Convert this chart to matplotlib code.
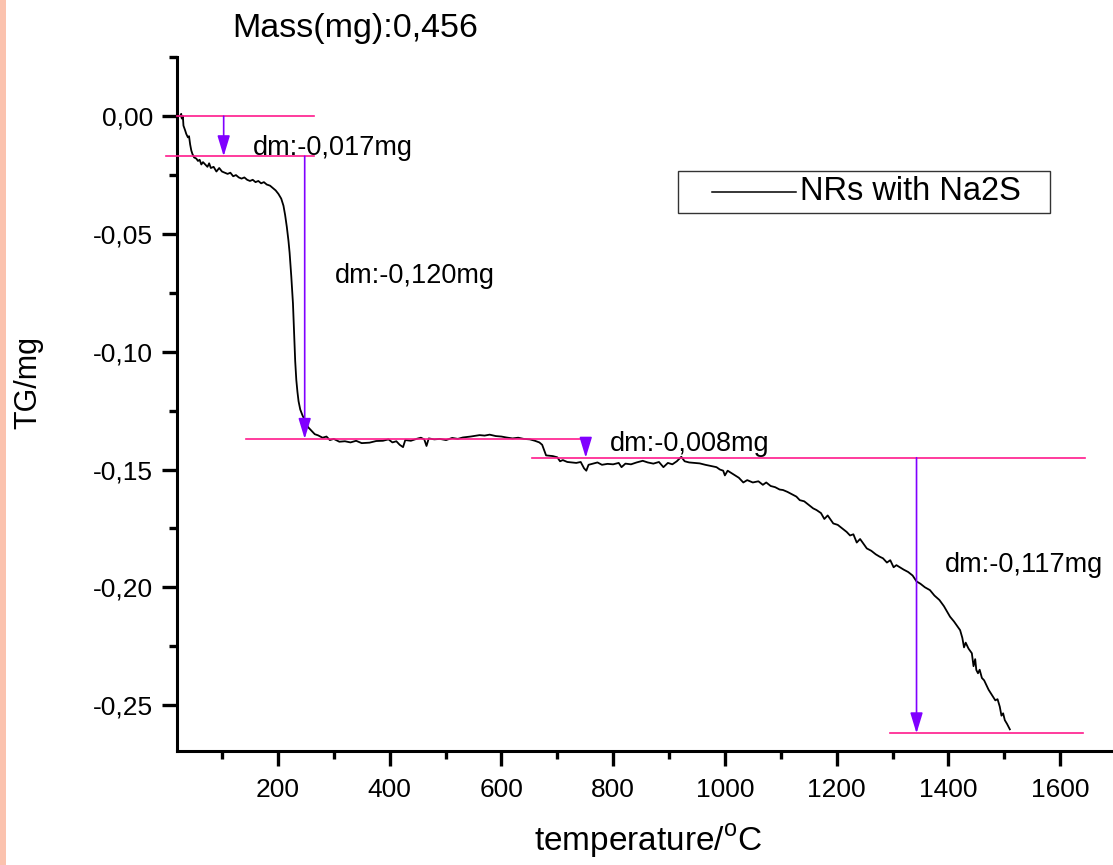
import matplotlib
matplotlib.use("Agg")
import matplotlib.pyplot as plt
from matplotlib.patches import Rectangle
from matplotlib.lines import Line2D

plt.rcParams['font.family'] = ['Liberation Sans', 'DejaVu Sans']
plt.rcParams['mathtext.fontset'] = 'custom'
plt.rcParams['mathtext.rm'] = 'Liberation Sans'

# TG curve, temperature in C and mass change in mg
temp_c = [25, 27, 28, 30, 31, 34, 36, 39, 41, 43, 45, 47, 50, 54, 57, 60, 63, 66, 70, 74,
          77, 80, 85, 90, 95, 100, 105, 110, 115, 120, 125, 130, 135, 140, 145, 150, 155,
          160, 165, 170, 175, 180, 186, 191, 196, 201, 206, 210, 213, 216, 219, 221, 224,
          227, 229, 231, 233, 235, 237, 240, 244, 249, 254, 260, 266, 272, 280, 287, 293,
          300, 310, 320, 330, 340, 350, 364, 376, 388, 398, 405, 412, 418, 424, 428, 438,
          448, 456, 462, 466, 470, 480, 490, 501, 512, 522, 531, 545, 561, 570, 579, 590,
          600, 609, 620, 630, 640, 651, 660, 668, 673, 677, 680, 692, 700, 705, 710, 718,
          726, 734, 742, 748, 752, 756, 764, 772, 780, 790, 800, 810, 815, 822, 832, 842,
          853, 862, 872, 882, 890, 898, 906, 914, 922, 928, 936, 946, 955, 965, 975, 985,
          991, 997, 1000, 1005, 1015, 1025, 1033, 1040, 1050, 1060, 1068, 1074, 1082, 1090,
          1098, 1104, 1112, 1120, 1128, 1134, 1142, 1150, 1158, 1164, 1172, 1178, 1184,
          1194, 1202, 1210, 1218, 1224, 1230, 1236, 1242, 1254, 1262, 1270, 1277, 1283,
          1290, 1296, 1302, 1307, 1313, 1320, 1328, 1336, 1343, 1350, 1358, 1367, 1375,
          1384, 1392, 1398, 1403, 1410, 1416, 1421, 1425, 1428, 1431, 1436, 1442, 1445,
          1448, 1450, 1453, 1456, 1460, 1464, 1468, 1472, 1476, 1480, 1484, 1488, 1492,
          1495, 1498, 1501, 1505, 1510]
tg_mg = [0.000, 0.001, -0.001, 0.000, -0.004, -0.006, -0.0075, -0.009, -0.0085, -0.012,
         -0.0145, -0.016, -0.0175, -0.018, -0.019, -0.0185, -0.0205, -0.0195, -0.0205,
         -0.0215, -0.020, -0.022, -0.0215, -0.0235, -0.022, -0.0235, -0.024, -0.0245,
         -0.024, -0.0255, -0.025, -0.026, -0.0265, -0.026, -0.027, -0.0275, -0.027, -0.028,
         -0.0275, -0.0285, -0.028, -0.029, -0.0295, -0.0305, -0.0315, -0.033, -0.035,
         -0.038, -0.042, -0.047, -0.053, -0.058, -0.068, -0.0795, -0.092, -0.104, -0.112,
         -0.117, -0.121, -0.1245, -0.127, -0.1295, -0.132, -0.1335, -0.135, -0.1355,
         -0.1365, -0.136, -0.1375, -0.137, -0.1382, -0.138, -0.1385, -0.1378, -0.1388,
         -0.1386, -0.1379, -0.1378, -0.1372, -0.1385, -0.138, -0.1395, -0.1405, -0.1375,
         -0.1378, -0.137, -0.1365, -0.1372, -0.140, -0.1368, -0.1372, -0.137, -0.1375,
         -0.1366, -0.137, -0.1364, -0.136, -0.1354, -0.1356, -0.1352, -0.1358, -0.136,
         -0.1364, -0.1368, -0.1365, -0.137, -0.1372, -0.1378, -0.1385, -0.1395, -0.142,
         -0.144, -0.1443, -0.1448, -0.1465, -0.146, -0.1468, -0.147, -0.1472, -0.1468,
         -0.1495, -0.1505, -0.148, -0.1475, -0.147, -0.148, -0.1476, -0.1478, -0.1472,
         -0.149, -0.1475, -0.1478, -0.147, -0.1463, -0.147, -0.1475, -0.1468, -0.149,
         -0.1472, -0.1478, -0.1465, -0.1446, -0.1465, -0.147, -0.1472, -0.1474, -0.148,
         -0.1485, -0.149, -0.150, -0.1505, -0.1525, -0.1505, -0.152, -0.1535, -0.1555,
         -0.1545, -0.1555, -0.155, -0.1565, -0.1555, -0.157, -0.1575, -0.1585, -0.1587,
         -0.1595, -0.1605, -0.1615, -0.163, -0.1635, -0.165, -0.1665, -0.1672, -0.1685,
         -0.171, -0.1695, -0.1729, -0.1735, -0.175, -0.1765, -0.178, -0.1775, -0.181,
         -0.1795, -0.1835, -0.1845, -0.186, -0.187, -0.1877, -0.1895, -0.1885, -0.1915,
         -0.1906, -0.1915, -0.1925, -0.1935, -0.195, -0.1975, -0.1985, -0.200, -0.2012,
         -0.2035, -0.2054, -0.208, -0.2105, -0.2125, -0.2145, -0.2165, -0.2182, -0.2215,
         -0.2255, -0.2235, -0.226, -0.228, -0.2335, -0.2305, -0.2351, -0.2365, -0.235,
         -0.2385, -0.2395, -0.2415, -0.2435, -0.245, -0.2465, -0.248, -0.2475, -0.2507,
         -0.2545, -0.2535, -0.2564, -0.258, -0.2603]

# mass loss steps: arrow x position, arrow start level and dm
step_x = [103, 248, 751, 1343]
step_dm = [-0.017, -0.120, -0.008, -0.117]
step_top = [0.0, -0.017, -0.137, -0.145]
step_labels = ['dm:-0,017mg', 'dm:-0,120mg', 'dm:-0,008mg', 'dm:-0,117mg']
label_pos = [(155, -0.0166), (302, -0.0709), (795, -0.1421), (1394, -0.1934)]

# horizontal marker lines: level, x from, x to
level_y = [0.0, -0.017, -0.137, -0.145, -0.262]
level_x0 = [20, 0, 143, 654, 1295]
level_x1 = [264, 264, 753, 1644, 1641]

xticks = [200, 400, 600, 800, 1000, 1200, 1400, 1600]
xminor = [100, 300, 500, 700, 900, 1100, 1300, 1500, 1700]
yticks = [0.0, -0.05, -0.10, -0.15, -0.20, -0.25]
yminor = [0.025, -0.025, -0.075, -0.125, -0.175, -0.225]

pink = '#FF1A8C'
violet = '#8000FF'

W, H = 1113, 865
fig = plt.figure(figsize=(W / 100, H / 100), dpi=100)
fig.patches.append(Rectangle((0, 0), 6 / W, 1, transform=fig.transFigure,
                             facecolor='#FBC2AE', edgecolor='none'))

ax = fig.add_axes([177.3 / W, 1 - 751 / H, (1116 - 177.3) / W, (751 - 57.3) / H])
ax.set_xlim(20, 1700)
ax.set_ylim(-0.2695, 0.025)

ax.plot(temp_c, tg_mg, color='black', lw=1.3)

for y, x0, x1 in zip(level_y, level_x0, level_x1):
    ax.plot([x0, x1], [y, y], color=pink, lw=1.2, clip_on=False, zorder=3)

for x, top, dm in zip(step_x, step_top, step_dm):
    ax.annotate('', xy=(x, top + dm), xytext=(x, top),
                arrowprops=dict(arrowstyle='-|>,head_length=1.25,head_width=0.38',
                                mutation_scale=10, color=violet, lw=1.2,
                                shrinkA=0, shrinkB=0), zorder=4)

for txt, (x, y) in zip(step_labels, label_pos):
    ax.text(x, y, txt, fontsize=19.5, ha='left', va='baseline')

for side in ['top', 'right']:
    ax.spines[side].set_visible(False)
for side in ['left', 'bottom']:
    ax.spines[side].set_linewidth(2.2)

ax.set_xticks(xticks)
ax.set_xticks(xminor, minor=True)
ax.set_yticks(yticks)
ax.set_yticks(yminor, minor=True)
ax.set_yticklabels([f'{v:.2f}'.replace('.', ',') for v in yticks])
ax.tick_params(which='major', direction='out', length=10.5, width=2.4, labelsize=19)
ax.tick_params(axis='y', which='major', pad=7)
ax.tick_params(axis='x', which='major', pad=9)
ax.tick_params(which='minor', direction='out', length=6, width=2.4)

# legend box drawn in figure pixels
fig.patches.append(Rectangle((678 / W, 1 - 213 / H), 372 / W, 42 / H,
                             transform=fig.transFigure, facecolor='white',
                             edgecolor='#333333', lw=1.0, zorder=5))
fig.lines.append(Line2D([712 / W, 796 / W], [1 - 192 / H, 1 - 192 / H],
                        transform=fig.transFigure, color='black', lw=1.1, zorder=6))
fig.text(800 / W, 1 - 192 / H, 'NRs with Na2S', fontsize=23.5, ha='left', va='center',
         zorder=7)

fig.text(232 / W, 1 - 37.5 / H, 'Mass(mg):0,456', fontsize=24.5, ha='left', va='baseline')
fig.text(28 / W, 1 - 383 / H, 'TG/mg', fontsize=22, rotation=90, ha='center', va='center')
fig.text(648 / W, 1 - 851 / H, r'temperature/$^{\rm o}$C', fontsize=24, ha='center',
         va='baseline')

fig.savefig('out.png', dpi=100)
